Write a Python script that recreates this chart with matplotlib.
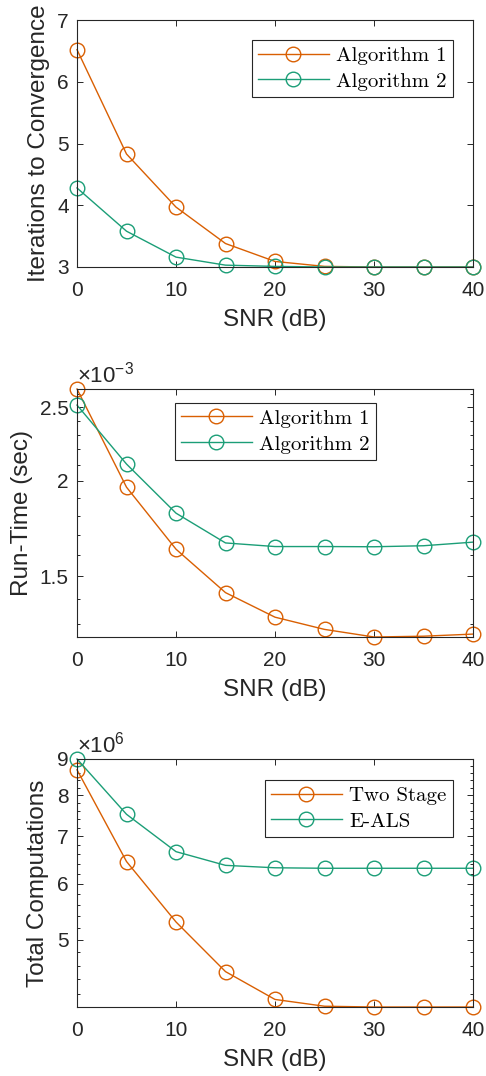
import numpy as np
import matplotlib

matplotlib.use("Agg")
import matplotlib.pyplot as plt
from matplotlib.ticker import FixedLocator, FuncFormatter, NullFormatter

plt.rcParams["font.family"] = ["Liberation Sans", "DejaVu Sans"]

# data
snr = [0, 5, 10, 15, 20, 25, 30, 35, 40]

iter_alg1 = [6.52, 4.83, 3.97, 3.38, 3.09, 3.01, 3.0, 3.0, 3.0]
iter_alg2 = [4.28, 3.58, 3.16, 3.03, 3.01, 3.0, 3.0, 3.0, 3.0]

runtime_alg1 = [2.64e-3, 1.963e-3, 1.628e-3, 1.428e-3, 1.326e-3, 1.278e-3, 1.249e-3, 1.252e-3, 1.26e-3]
runtime_alg2 = [2.515e-3, 2.105e-3, 1.815e-3, 1.659e-3, 1.641e-3, 1.641e-3, 1.64e-3, 1.645e-3, 1.663e-3]

comp_two_stage = [8.69e6, 6.45e6, 5.30e6, 4.51e6, 4.12e6, 4.03e6, 4.02e6, 4.02e6, 4.02e6]
comp_eals = [9.0e6, 7.52e6, 6.66e6, 6.37e6, 6.32e6, 6.31e6, 6.31e6, 6.31e6, 6.31e6]

labels_alg = ["Algorithm 1", "Algorithm 2"]
labels_comp = ["Two Stage", "E-ALS"]

ORANGE = "#d95f02"
GREEN = "#1b9e77"
DARK = "#262626"

fig = plt.figure(figsize=(4.86, 10.76), dpi=100)
W, H = 486.0, 1076.0


def make_axes(top, bottom, left=77, right=473):
    return fig.add_axes([left / W, 1 - bottom / H, (right - left) / W, (bottom - top) / H])


def style(ax):
    ax.set_xlim(0, 40)
    ax.set_xticks([0, 10, 20, 30, 40])
    for s in ax.spines.values():
        s.set_color(DARK)
        s.set_linewidth(0.8)
    ax.tick_params(which="both", direction="in", top=True, right=True,
                   colors=DARK, labelsize=15, width=0.7)
    ax.tick_params(which="major", length=4)
    ax.tick_params(which="minor", length=2.5)
    ax.tick_params(axis="x", pad=10)
    ax.tick_params(axis="y", pad=6)
    ax.set_xlabel("SNR (dB)", fontsize=17.5, color=DARK)
    ax.xaxis.set_label_coords(0.5, -0.17)


def draw(ax, y1, y2, labels, anchor, loc):
    kw = dict(marker="o", markersize=10.5, markerfacecolor="none", lw=1.0,
              markeredgewidth=1.0, clip_on=False)
    ax.plot(snr, y1, color=ORANGE, label=labels[0], **kw)
    ax.plot(snr, y2, color=GREEN, label=labels[1], **kw)
    leg = ax.legend(loc=loc, bbox_to_anchor=anchor, prop={"family": "cmr10", "size": 15},
                    fancybox=False, framealpha=1, edgecolor=DARK, handlelength=3.4,
                    handletextpad=0.35, borderpad=0.3, labelspacing=0.35,
                    borderaxespad=0)
    leg.get_frame().set_linewidth(0.8)


# panel 1
ax1 = make_axes(20, 267)
draw(ax1, iter_alg1, iter_alg2, labels_alg, (0.949, 0.919), "upper right")
ax1.set_ylim(3, 7)
ax1.set_yticks([3, 4, 5, 6, 7])
style(ax1)
ax1.set_ylabel("Iterations to Convergence", fontsize=17.5, color=DARK)
ax1.yaxis.set_label_coords(-0.068, 0.5)

# panel 2
ax2 = make_axes(389, 637)
draw(ax2, runtime_alg1, runtime_alg2, labels_alg, (0.247, 0.944), "upper left")
ax2.set_yscale("log")
ax2.set_ylim(min(runtime_alg1), max(runtime_alg1))
ax2.yaxis.set_major_locator(FixedLocator([1.5e-3, 2e-3, 2.5e-3]))
ax2.yaxis.set_minor_locator(FixedLocator(np.arange(1.2, 2.75, 0.1) * 1e-3))
ax2.yaxis.set_major_formatter(FuncFormatter(lambda v, p: f"{v * 1e3:g}"))
ax2.yaxis.set_minor_formatter(NullFormatter())
style(ax2)
ax2.set_ylabel("Run-Time (sec)", fontsize=17.5, color=DARK)
ax2.yaxis.set_label_coords(-0.111, 0.5)
ax2.text(0.0, 1.005, "×10$^{\\mathregular{-3}}$", transform=ax2.transAxes,
         fontsize=16, color=DARK, ha="left", va="bottom")

# panel 3
ax3 = make_axes(759, 1007)
draw(ax3, comp_two_stage, comp_eals, labels_comp, (0.949, 0.915), "upper right")
ax3.set_yscale("log")
ax3.set_ylim(min(comp_two_stage), max(comp_eals))
ax3.yaxis.set_major_locator(FixedLocator([5e6, 6e6, 7e6, 8e6, 9e6]))
ax3.yaxis.set_minor_locator(FixedLocator(np.arange(4.0, 9.1, 0.2) * 1e6))
ax3.yaxis.set_major_formatter(FuncFormatter(lambda v, p: f"{v / 1e6:g}"))
ax3.yaxis.set_minor_formatter(NullFormatter())
style(ax3)
ax3.set_ylabel("Total Computations", fontsize=17.5, color=DARK)
ax3.yaxis.set_label_coords(-0.071, 0.5)
ax3.text(0.0, 1.005, "×10$^{\\mathregular{6}}$", transform=ax3.transAxes,
         fontsize=16, color=DARK, ha="left", va="bottom")

fig.savefig("out.png", dpi=100)
